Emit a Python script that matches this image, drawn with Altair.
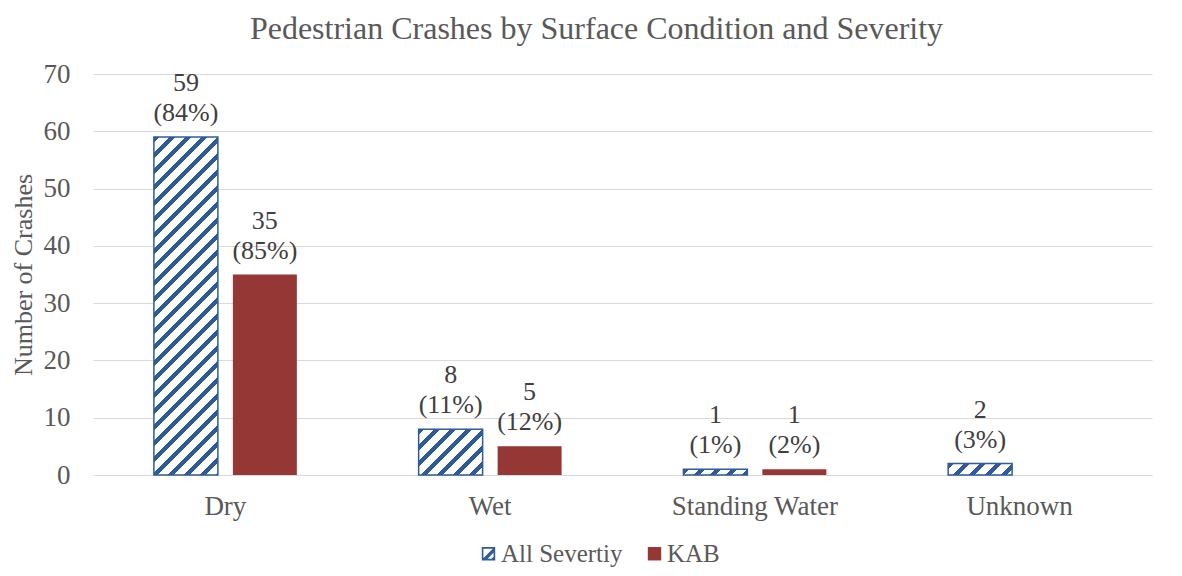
import altair as alt
import pandas as pd

# ---- data ----
categories = ["Dry", "Wet", "Standing Water", "Unknown"]
series_names = ["All Severtiy", "KAB"]
all_counts = [59, 8, 1, 2]
all_pcts = [84, 11, 1, 3]
kab_counts = [35, 5, 1, 0]
kab_pcts = [85, 12, 2, 0]

# ---- style ----
BLUE = "#2F5C96"
RED = "#953735"
WHITE = "#FFFFFF"
GRID = "#D9D9D9"
AXIS_TXT = "#595959"
LBL_TXT = "#404040"
FONT = "Liberation Serif"

PLOT_W = 1059
PLOT_H = 401
Y_MAX = 70
PAD_IN, PAD_OUT = 0.46, 0.23
OFF_PAD = 0.19

rows = []
for cat, v, p in zip(categories, all_counts, all_pcts):
    rows.append(dict(condition=cat, series=series_names[0], count=v, label=f"{v}\n({p}%)"))
for cat, v, p in zip(categories, kab_counts, kab_pcts):
    rows.append(dict(condition=cat, series=series_names[1], count=v, label=f"{v}\n({p}%)"))
df = pd.DataFrame(rows)

# bar pixel width from the band scales
step = PLOT_W / (len(categories) - PAD_IN + 2 * PAD_OUT)
band = step * (1 - PAD_IN)
bar_w = band / (2 - OFF_PAD) * (1 - OFF_PAD)


def hatch(w, h, period=16.0, frac=0.34):
    L = w + h
    c = L / (w * w + h * h)
    n = L / period
    stops = []
    k = 0
    while k < n:
        t0 = min(k / n, 1.0)
        t1 = min((k + frac) / n, 1.0)
        t2 = min((k + 1) / n, 1.0)
        stops += [
            alt.GradientStop(offset=round(t0, 5), color=BLUE),
            alt.GradientStop(offset=round(t1, 5), color=BLUE),
            alt.GradientStop(offset=round(t1, 5), color=WHITE),
            alt.GradientStop(offset=round(t2, 5), color=WHITE),
        ]
        k += 1
    return alt.LinearGradient(gradient="linear", x1=0, y1=0, x2=c * w, y2=c * h, stops=stops)


# legend symbol path: framed square with diagonal stripes
def clip(poly, a, b, cval, keep_ge):
    out = []
    n = len(poly)
    for i in range(n):
        P = poly[i]
        Q = poly[(i + 1) % n]
        fp = a * P[0] + b * P[1] - cval
        fq = a * Q[0] + b * Q[1] - cval
        inP = fp >= 0 if keep_ge else fp <= 0
        inQ = fq >= 0 if keep_ge else fq <= 0
        if inP:
            out.append(P)
        if inP != inQ:
            t = fp / (fp - fq)
            out.append((P[0] + t * (Q[0] - P[0]), P[1] + t * (Q[1] - P[1])))
    return out


def area(poly):
    s = 0
    for i in range(len(poly)):
        x1, y1 = poly[i]
        x2, y2 = poly[(i + 1) % len(poly)]
        s += x1 * y2 - x2 * y1
    return s / 2


def to_path(poly):
    if area(poly) < 0:
        poly = poly[::-1]
    pts = [f"{x:.3f},{y:.3f}" for x, y in poly]
    return "M" + "L".join(pts) + "Z"


sq = [(-1, -1), (1, -1), (1, 1), (-1, 1)]
f = 0.24
polys = [
    [(-1, -1), (1, -1), (1, -1 + f), (-1, -1 + f)],
    [(-1, 1 - f), (1, 1 - f), (1, 1), (-1, 1)],
    [(-1, -1), (-1 + f, -1), (-1 + f, 1), (-1, 1)],
    [(1 - f, -1), (1, -1), (1, 1), (1 - f, 1)],
]
for cdiag, half in ((0.25, 0.35), (1.7, 0.5)):
    p = clip(sq, 1, 1, cdiag - half, True)
    p = clip(p, 1, 1, cdiag + half, False)
    if len(p) >= 3:
        polys.append(p)
HATCH_PATH = "".join(to_path(p) for p in polys)

x_enc = alt.X(
    "condition:N",
    sort=categories,
    scale=alt.Scale(domain=categories, paddingInner=PAD_IN, paddingOuter=PAD_OUT),
    axis=alt.Axis(
        title=None, labelAngle=0, ticks=False, domain=True, domainColor=GRID,
        labelFont=FONT, labelFontSize=27, labelColor=AXIS_TXT, labelPadding=18,
    ),
)
xoff_enc = alt.XOffset(
    "series:N", scale=alt.Scale(domain=series_names, paddingInner=OFF_PAD, paddingOuter=0)
)
y_enc = alt.Y(
    "count:Q",
    scale=alt.Scale(domain=[0, Y_MAX], nice=False),
    axis=alt.Axis(
        values=list(range(0, Y_MAX + 1, 10)), grid=True, gridColor=GRID, gridWidth=1,
        domain=False, ticks=False, labelFont=FONT, labelFontSize=27, labelColor=AXIS_TXT,
        labelPadding=23, title="Number of Crashes", titleFont=FONT, titleFontSize=26,
        titleFontWeight="normal", titleColor=AXIS_TXT, titlePadding=7,
    ),
)

base = alt.Chart(df).encode(x=x_enc, xOffset=xoff_enc, y=y_enc)

layers = []
for cat, v in zip(categories, all_counts):
    h = v * PLOT_H / Y_MAX
    layers.append(
        base.transform_filter(
            f"datum.series == '{series_names[0]}' && datum.condition == '{cat}'"
        ).mark_bar(fill=hatch(bar_w, h), stroke=BLUE, strokeWidth=1.5)
    )

legend_expr = f"datum.value === '{series_names[1]}' ? 'square' : '{HATCH_PATH}'"

red = base.transform_filter(
    f"datum.series == '{series_names[1]}' && datum.count > 0"
).mark_bar().encode(
    color=alt.Color(
        "series:N",
        scale=alt.Scale(domain=series_names, range=[BLUE, RED]),
        legend=alt.Legend(
            title=None, orient="none", legendX=383, legendY=467, direction="horizontal",
            symbolType=alt.ExprRef(legend_expr), symbolSize=180, symbolStrokeWidth=0,
            labelFont=FONT, labelFontSize=25, labelColor=AXIS_TXT, labelOffset=0,
            columnPadding=19,
        ),
    )
)

text = base.transform_filter("datum.count > 0").mark_text(
    baseline="bottom", dy=-41, lineBreak="\n", lineHeight=30,
    font=FONT, fontSize=26, color=LBL_TXT,
).encode(text="label:N")

chart = alt.layer(*layers, red, text).properties(
    width=PLOT_W,
    height=PLOT_H,
    background="white",
    autosize=alt.AutoSizeParams(type="none"),
    padding={"left": 85, "top": 66, "right": 22, "bottom": 93},
    title=alt.Title(
        "Pedestrian Crashes by Surface Condition and Severity",
        font=FONT, fontSize=32, fontWeight="normal", color=AXIS_TXT,
        anchor="middle", offset=14, dx=-26,
    ),
).configure_view(stroke=None)

chart.save("out.html", embed_options={"renderer": "svg", "actions": False})
